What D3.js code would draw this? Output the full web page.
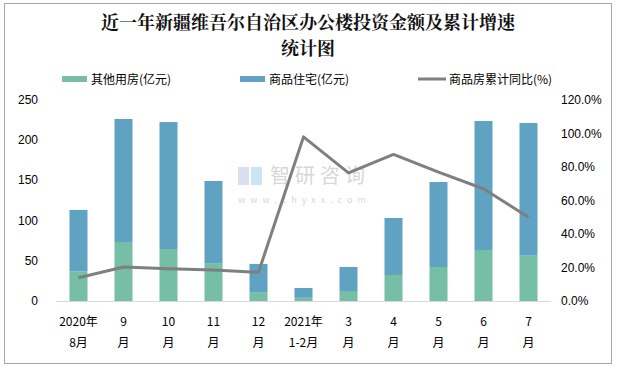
<!DOCTYPE html>
<html><head><meta charset="utf-8">
<script src="https://cdn.jsdelivr.net/npm/d3@7/dist/d3.min.js"></script>
<style>
body{margin:0;background:#fff;}
text{font-family:"Noto Sans CJK SC","Noto Sans",sans-serif;}
</style></head>
<body><svg id="c" width="617" height="369"></svg>
<script>
const categories = [["2020年","8月"],["9","月"],["10","月"],["11","月"],["12","月"],["2021年","1-2月"],["3","月"],["4","月"],["5","月"],["6","月"],["7","月"]];
const otherValues = [36.8, 73.2, 64.5, 47, 11, 4, 12.4, 32.3, 42.2, 63.3, 56.2];
const totalValues = [113, 225.8, 222, 148.9, 46, 16.1, 42.2, 103, 147.6, 223.3, 220.8];
const residentialValues = totalValues.map((t,i)=>+(t-otherValues[i]).toFixed(1));
const growthValues = [13.9, 20.3, 19.2, 18.5, 17.1, 98, 76.5, 87.5, 77, 67, 50];
const leftTicks = [0,50,100,150,200,250];
const rightTicks = [0,20,40,60,80,100,120];
const seriesNames = ["其他用房(亿元)","商品住宅(亿元)","商品房累计同比(%)"];
const titleLines = ["近一年新疆维吾尔自治区办公楼投资金额及累计增速","统计图"];

const svg = d3.select("#c");
const green = "#76BEA5", blue = "#5FA2C2", gray = "#7F7F7F";

svg.append("rect").attr("x",4.5).attr("y",3.5).attr("width",607).attr("height",360)
  .attr("fill","#fff").attr("stroke","#A6A6A6").attr("stroke-width",1);

// title
svg.append("g").selectAll("text").data(titleLines).join("text")
  .attr("x",308).attr("y",(d,i)=>29+i*26).attr("text-anchor","middle")
  .attr("font-size",18).attr("font-weight","bold").attr("fill","#111")
  .style("font-family","'Noto Serif CJK SC','Noto Sans CJK SC',serif")
  .text(d=>d);

const x = d3.scaleBand().domain(d3.range(categories.length)).range([56,551]).paddingInner(0.6).paddingOuter(0.3);
const yL = d3.scaleLinear().domain([0,250]).range([301,99.5]);
const yR = d3.scaleLinear().domain([0,120]).range([301,100]);

// watermark
const wm = svg.append("g").attr("opacity",0.55);
wm.append("text").attr("x",270).attr("y",183).attr("font-size",20).attr("fill","#b8b8b8").attr("letter-spacing",5).text("智研咨询");
wm.append("text").attr("x",238).attr("y",203).attr("font-size",9).attr("fill","#b8b8b8").attr("letter-spacing",5).text("www.chyxx.com");
wm.append("rect").attr("x",238).attr("y",167).attr("width",11).attr("height",18).attr("fill","#b9c7e0");
wm.append("rect").attr("x",251).attr("y",167).attr("width",11).attr("height",18).attr("fill","#9fd0ee");

// bars
const g = svg.append("g");
g.selectAll("rect.o").data(otherValues).join("rect").attr("class","o")
  .attr("x",(d,i)=>x(i)).attr("width",x.bandwidth())
  .attr("y",d=>yL(d)).attr("height",d=>yL(0)-yL(d)).attr("fill",green);
g.selectAll("rect.r").data(residentialValues).join("rect").attr("class","r")
  .attr("x",(d,i)=>x(i)).attr("width",x.bandwidth())
  .attr("y",(d,i)=>yL(d+otherValues[i])).attr("height",d=>yL(0)-yL(d)).attr("fill",blue);

// baseline
svg.append("line").attr("x1",56).attr("x2",551).attr("y1",301.5).attr("y2",301.5).attr("stroke","#D9D9D9");

// line
const line = d3.line().x((d,i)=>x(i)+x.bandwidth()/2).y(d=>yR(d));
svg.append("path").datum(growthValues).attr("d",line).attr("fill","none")
  .attr("stroke",gray).attr("stroke-width",3).attr("stroke-linejoin","round");

// left axis
const la = svg.append("g").attr("transform","translate(44,0)")
  .call(d3.axisLeft(yL).tickValues(leftTicks).tickSize(0).tickPadding(6));
la.select(".domain").remove();
la.selectAll("text").attr("font-size",12).attr("fill","#000").style("font-family","'Liberation Sans',Arial,sans-serif");

// right axis
const ra = svg.append("g").attr("transform","translate(555,0)")
  .call(d3.axisRight(yR).tickValues(rightTicks).tickSize(0).tickPadding(6).tickFormat(d=>d.toFixed(1)+"%"));
ra.select(".domain").remove();
ra.selectAll("text").attr("font-size",12).attr("fill","#000").style("font-family","'Liberation Sans',Arial,sans-serif");

// x labels
const xl = svg.append("g");
categories.forEach((c,i)=>{
  c.forEach((s,j)=>{
    xl.append("text").attr("x",x(i)+x.bandwidth()/2).attr("y",326+j*21)
      .attr("text-anchor","middle").attr("font-size",12).attr("fill","#000").text(s);
  });
});

// legend
const lg = svg.append("g");
const legendItems = [{x:62,t:seriesNames[0],type:"rect",c:green},{x:240,t:seriesNames[1],type:"rect",c:blue},{x:418,t:seriesNames[2],type:"line",c:gray}];
legendItems.forEach(it=>{
  if(it.type==="rect") lg.append("rect").attr("x",it.x).attr("y",76).attr("width",25).attr("height",6).attr("fill",it.c);
  else lg.append("line").attr("x1",it.x).attr("x2",it.x+28).attr("y1",79).attr("y2",79).attr("stroke",it.c).attr("stroke-width",3);
  lg.append("text").attr("x",it.x+(it.type==="rect"?29:31)).attr("y",83.5).attr("font-size",12).attr("fill","#000").text(it.t);
});
</script></body></html>
